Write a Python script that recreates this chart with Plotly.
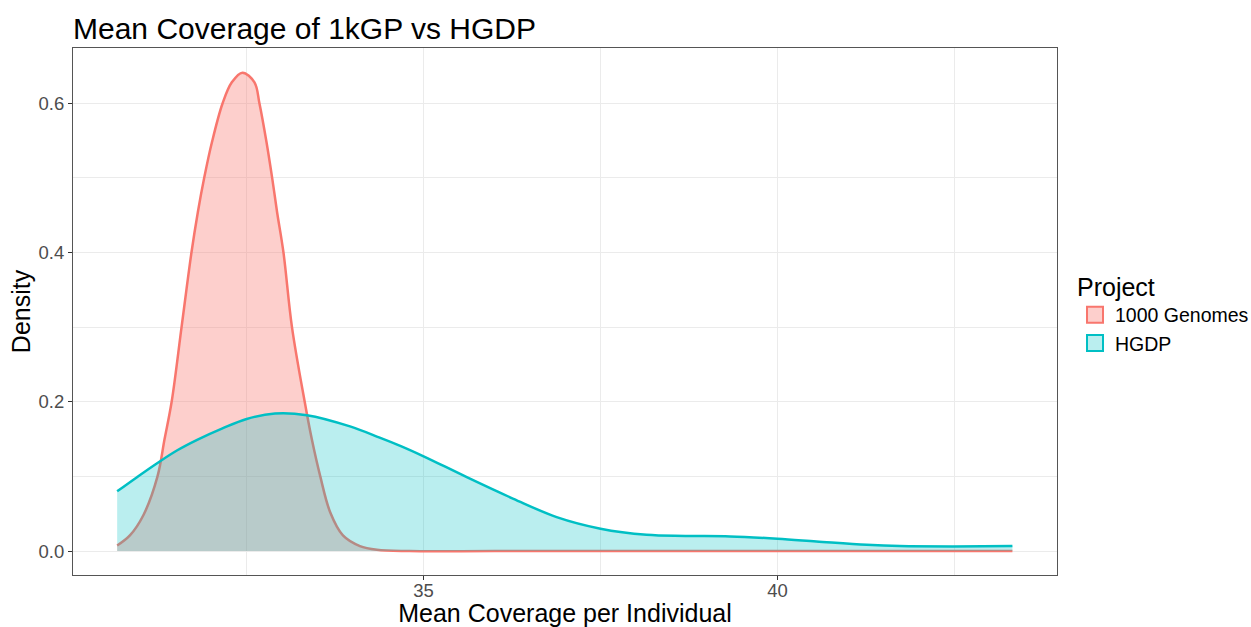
import plotly.graph_objects as go

# ---- data (kernel density curves) ----
kgp_x = [30.67, 30.85, 31.04, 31.24, 31.34, 31.44, 31.58, 31.72, 31.81, 31.90, 32.01,
         32.16, 32.29, 32.44, 32.61, 32.68, 32.78, 32.86, 32.93, 33.02, 33.14, 33.32,
         33.42, 33.54, 33.68, 33.86, 34.10, 34.34, 34.8, 36.0, 38.0, 40.0, 42.0, 43.32]
kgp_y = [0.0075, 0.021, 0.048, 0.100, 0.150, 0.200, 0.300, 0.400, 0.454, 0.500, 0.548,
         0.600, 0.628, 0.641, 0.628, 0.600, 0.548, 0.500, 0.454, 0.400, 0.300, 0.200,
         0.150, 0.100, 0.052, 0.021, 0.0067, 0.0017, 0.0, 0.0, 0.0, 0.0, 0.0, 0.0]

hgdp_x = [30.67, 30.95, 31.24, 31.52, 31.80, 32.15, 32.5, 32.9, 33.35, 33.96, 34.38,
          34.67, 35.0, 35.61, 36.27, 36.88, 37.5, 38.15, 38.7, 39.33, 40.0, 40.55,
          41.26, 41.73, 42.48, 43.32]
hgdp_y = [0.080, 0.099, 0.118, 0.135, 0.149, 0.164, 0.177, 0.1842, 0.182, 0.167, 0.152,
          0.141, 0.127, 0.099, 0.070, 0.0455, 0.030, 0.0218, 0.0203, 0.0196, 0.0165, 0.0129,
          0.0084, 0.0067, 0.0062, 0.0067]

groups = ["1000 Genomes", "HGDP"]
line_colors = ["#F8766D", "#00BFC4"]
fill_colors = ["rgba(248,118,109,0.35)", "rgba(0,191,196,0.27)"]

x_ticks = [35, 40]
x_minor = [32.5, 37.5, 42.5]
y_ticks = [0.0, 0.2, 0.4, 0.6]
y_minor = [0.1, 0.3, 0.5]

FONT = "Liberation Sans, Arial, sans-serif"

fig = go.Figure()
for name, xs, ys, lc, fc in zip(groups, [kgp_x, hgdp_x], [kgp_y, hgdp_y], line_colors, fill_colors):
    fig.add_trace(go.Scatter(
        x=xs, y=ys, mode="lines", fill="tozeroy", fillcolor=fc,
        line=dict(color=lc, width=2.5, shape="spline", smoothing=1.0),
        showlegend=False, hoverinfo="skip"))
# legend keys (square boxes like ggplot)
for name, lc, fc in zip(groups, line_colors, fill_colors):
    fig.add_trace(go.Scatter(
        x=[None], y=[None], mode="markers", name=name,
        marker=dict(symbol="square", size=16, color=fc, line=dict(color=lc, width=2))))

axis_common = dict(
    showline=True, linecolor="#555555", linewidth=1, mirror=True,
    gridcolor="#EBEBEB", gridwidth=1.2, zeroline=False,
    ticks="outside", ticklen=4, tickcolor="#333333", tickwidth=1,
    tickfont=dict(family=FONT, size=18.5, color="#4D4D4D"),
    automargin=False,
)

fig.update_xaxes(
    range=[30.046, 43.95], tickvals=x_ticks, ticktext=[str(v) for v in x_ticks],
    ticklabelstandoff=-5,
    minor=dict(tickvals=x_minor, showgrid=True, gridcolor="#EBEBEB", gridwidth=0.8, ticks=""),
    title=dict(text="Mean Coverage per Individual", font=dict(family=FONT, size=25, color="black"), standoff=0),
    **axis_common)
fig.update_yaxes(
    range=[-0.0321, 0.674], tickvals=y_ticks, ticktext=[f"{v:.1f}" for v in y_ticks],
    minor=dict(tickvals=y_minor, showgrid=True, gridcolor="#EBEBEB", gridwidth=0.8, ticks=""),
    title=dict(text="Density", font=dict(family=FONT, size=25, color="black"), standoff=0),
    **axis_common)

fig.update_layout(
    width=1251, height=627,
    margin=dict(l=73, r=194, t=48, b=52, autoexpand=False),
    paper_bgcolor="white", plot_bgcolor="white",
    font=dict(family=FONT, color="black"),
    title=dict(text="Mean Coverage of 1kGP vs HGDP", font=dict(family=FONT, size=30, color="black"),
               x=0, xref="paper", xanchor="left", y=1 - 28 / 627, yanchor="middle"),
    legend=dict(title=dict(text="Project", font=dict(family=FONT, size=25, color="black")),
                font=dict(family=FONT, size=19.5, color="black"),
                x=1.0183, xanchor="left", y=0.592, yanchor="top",
                tracegroupgap=0, itemwidth=30, bgcolor="rgba(0,0,0,0)"),
)

fig.write_html("out.html")
